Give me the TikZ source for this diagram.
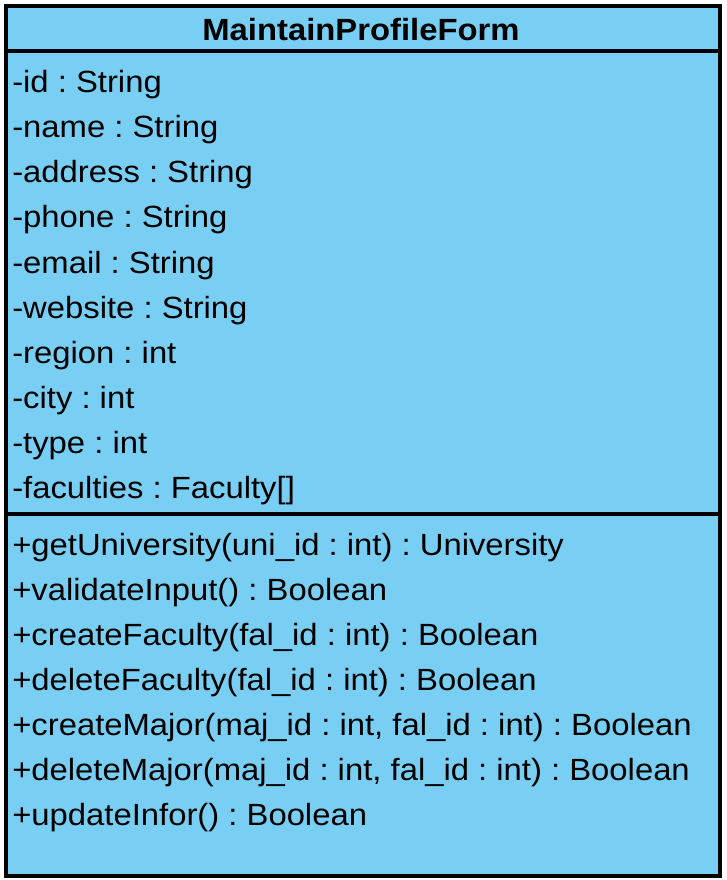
\documentclass[tikz,border=0pt]{standalone}
\usepackage{fontspec}
\setmainfont[FakeStretch=1.07]{Liberation Sans}
\usepackage{tikz}
\usetikzlibrary{positioning,calc}
\definecolor{classblue}{RGB}{121,206,243}
\frenchspacing

\begin{document}
\begin{tikzpicture}[
  x=0.75pt, y=-0.75pt,
  frame/.style={draw=black, line width=2.4pt, fill=classblue},
  rule/.style={draw=black, line width=2.4pt},
  member/.style={anchor=base west, inner sep=0pt, font=\fontsize{23}{27}\selectfont},
  title/.style={anchor=base, inner sep=0pt, font=\fontsize{23}{27}\selectfont\bfseries}
]
\useasboundingbox (0,0) rectangle (726,880);
% Class box with its two compartment rules
\draw[frame] (6,6) rectangle (720,876);
\draw[rule] (6,51) -- (720,51);
\draw[rule] (6,514) -- (720,514);
\node[title] (name) at (361,41) {MaintainProfileForm};

% Attributes
\foreach \txt [count=\k from 0] in {-id : String, -name : String, -address : String,
  -phone : String, -email : String, -website : String, -region : int,
  -city : int, -type : int, -faculties : Faculty[]} {
  \node[member] (a\k) at (12,93+45*\k) {\txt};
}

% Operations
\foreach \txt [count=\k from 0] in {+getUniversity(uni\_id : int) : University,
  +validateInput() : Boolean, +createFaculty(fal\_id : int) : Boolean,
  +deleteFaculty(fal\_id : int) : Boolean,
  {+createMajor(maj\_id : int, fal\_id : int) : Boolean},
  {+deleteMajor(maj\_id : int, fal\_id : int) : Boolean},
  +updateInfor() : Boolean} {
  \node[member] (o\k) at (12,555+45*\k) {\txt};
}
\end{tikzpicture}
\end{document}
